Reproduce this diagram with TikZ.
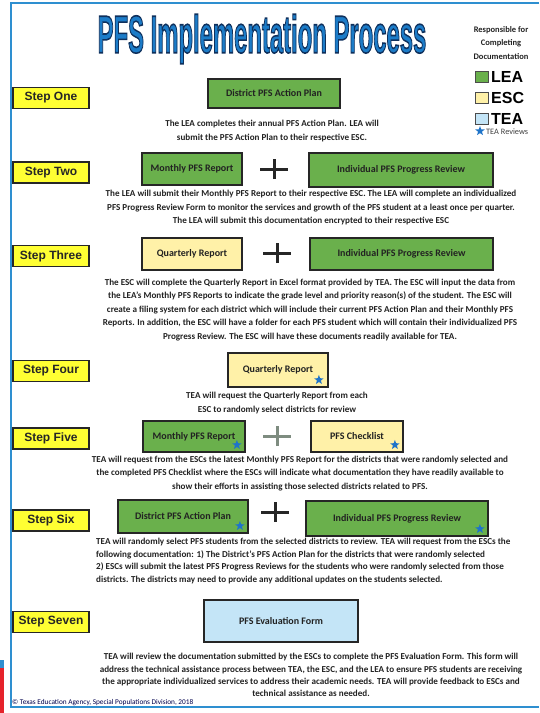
\documentclass[tikz,border=0pt]{standalone}
\usepackage{fontspec}
\setmainfont{Carlito}
\newfontfamily\arialfont{Liberation Sans}
\usetikzlibrary{shapes.geometric}
\definecolor{framebl}{HTML}{2E8FD0}
\definecolor{leagreen}{HTML}{6AB04C}
\definecolor{escyellow}{HTML}{FFF1A8}
\definecolor{teablue}{HTML}{C4E5F7}
\definecolor{stepyellow}{HTML}{FFFF33}
\definecolor{starblue}{HTML}{1F74C9}
\definecolor{titleblue}{HTML}{1C7CC8}
\definecolor{txt}{HTML}{222222}
\definecolor{plusgray}{HTML}{7E8C80}
\definecolor{redbar}{HTML}{E5232B}
\begin{document}
\begin{tikzpicture}[x=1pt,y=-1pt,
  stepbox/.style={draw=black!85, line width=1.6pt, fill=stepyellow, minimum width=76pt, minimum height=21pt,
    font=\arialfont\bfseries\fontsize{12}{14}\selectfont, text=black!85, inner sep=0pt},
  docbox/.style={draw=black!85, line width=1.8pt, font=\bfseries\fontsize{10}{12}\selectfont, text=txt, inner sep=0pt},
  lea/.style={docbox, fill=leagreen},
  esc/.style={docbox, fill=escyellow},
  tea/.style={docbox, fill=teablue},
  body/.style={font=\bfseries\fontsize{9.1}{13.5}\selectfont, text=txt, align=center, inner sep=0pt},
  plussign/.style={line width=3pt, draw=black!85},
  tstar/.style={star, star points=5, star point ratio=2.4, fill=starblue, inner sep=0pt, minimum size=10pt},
  legbox/.style={draw=black!70, line width=1pt, minimum width=13pt, minimum height=11pt, inner sep=0pt},
  legtext/.style={font=\arialfont\bfseries\fontsize{16}{18}\selectfont, text=black, anchor=west, inner sep=0pt}
]
\useasboundingbox (0,0) rectangle (539,713);
% frame
\draw[framebl, line width=2pt] (539,3) -- (11,3) -- (11,707) -- (539,707);
\fill[framebl] (0,660) rectangle (4,668);
\fill[redbar] (0,668) rectangle (4,713);

% title
\node[inner sep=0pt, text=titleblue] (title) at (262,39)
  {\arialfont\bfseries\fontsize{53}{53}\selectfont\scalebox{0.45}[1]{\special{pdf:literal direct 2 Tr 1.6 w 0.06 0.19 0.36 RG}PFS Implementation Process\special{pdf:literal direct 0 Tr}}};

% legend
\node[font=\bfseries\fontsize{8.5}{13.5}\selectfont, align=center, text=txt, inner sep=0pt] (legtitle) at (501,43)
  {Responsible for\\Completing\\Documentation};
\node[legbox, fill=leagreen] (lgLEA) at (481.5,76.5) {};
\node[legbox, fill=escyellow] (lgESC) at (481.5,98) {};
\node[legbox, fill=teablue] (lgTEA) at (481.5,118.5) {};
\node[legtext] (lgLEAt) at (491,76.5) {LEA};
\node[legtext] (lgESCt) at (491,98) {ESC};
\node[legtext] (lgTEAt) at (491,118.5) {TEA};
\node[tstar, minimum size=10pt] (lgstar) at (480,131) {};
\node[font=\fontsize{8.3}{9}\selectfont, text=black!75, anchor=west, inner sep=0pt] (lgstart) at (486,131.5) {TEA Reviews};

% step labels
\node[stepbox] (s1) at (51,98) {Step One};
\node[stepbox] (s2) at (51,172.5) {Step Two};
\node[stepbox] (s3) at (51,256) {Step Three};
\node[stepbox] (s4) at (51,371) {Step Four};
\node[stepbox] (s5) at (51,438.5) {Step Five};
\node[stepbox] (s6) at (51,520.5) {Step Six};
\node[stepbox] (s7) at (51,622) {Step Seven};

% step one
\node[lea, minimum width=132pt, minimum height=29pt] (b1) at (274,93.5) {District PFS Action Plan};
\node[body] (t1) at (272,131) {The LEA completes their annual PFS Action Plan. LEA will\\submit the PFS Action Plan to their respective ESC.};

% step two
\node[lea, minimum width=100pt, minimum height=32pt] (b2a) at (192,169) {Monthly PFS Report};
\coordinate (p2) at (274,169);
\draw[plussign] ([xshift=-14pt]p2) -- ([xshift=14pt]p2);
\draw[plussign] ([yshift=-10pt]p2) -- ([yshift=10pt]p2);
\node[lea, minimum width=184pt, minimum height=34pt] (b2b) at (401,170) {Individual PFS Progress Review};
\node[body] (t2) at (311,208) {The LEA will submit their Monthly PFS Report to their respective ESC. The LEA will complete an individualized\\PFS Progress Review Form to monitor the services and growth of the PFS student at a least once per quarter.\\The LEA will submit this documentation encrypted to their respective ESC};

% step three
\node[esc, minimum width=100pt, minimum height=32pt] (b3a) at (192,254) {Quarterly Report};
\coordinate (p3) at (277,253);
\draw[plussign] ([xshift=-14pt]p3) -- ([xshift=14pt]p3);
\draw[plussign] ([yshift=-10pt]p3) -- ([yshift=10pt]p3);
\node[lea, minimum width=183pt, minimum height=32pt] (b3b) at (401.5,254) {Individual PFS Progress Review};
\node[body] (t3) at (310,310) {The ESC will complete the Quarterly Report in Excel format provided by TEA. The ESC will input the data from\\the LEA's Monthly PFS Reports to indicate the grade level and priority reason(s) of the student. The ESC will\\create a filing system for each district which will include their current PFS Action Plan and their Monthly PFS\\Reports. In addition, the ESC will have a folder for each PFS student which will contain their individualized PFS\\Progress Review. The ESC will have these documents readily available for TEA.};

% step four
\node[esc, minimum width=100pt, minimum height=34pt] (b4) at (278,370) {Quarterly Report};
\node[tstar, xshift=-10pt, yshift=8pt] (st4) at (b4.south east) {};
\node[body] (t4) at (277,403) {TEA will request the Quarterly Report from each\\ESC to randomly select districts for review};

% step five
\node[lea, minimum width=102pt, minimum height=31pt] (b5a) at (194,436.5) {Monthly PFS Report};
\node[tstar, xshift=-9pt, yshift=8pt] (st5a) at (b5a.south east) {};
\coordinate (p5) at (277,436);
\draw[plussign, draw=plusgray] ([xshift=-14pt]p5) -- ([xshift=14pt]p5);
\draw[plussign, draw=plusgray] ([yshift=-10pt]p5) -- ([yshift=10pt]p5);
\node[esc, minimum width=92pt, minimum height=31pt] (b5b) at (357,436.5) {PFS Checklist};
\node[tstar, xshift=-9pt, yshift=8pt] (st5b) at (b5b.south east) {};
\node[body] (t5) at (300,473.5) {TEA will request from the ESCs the latest Monthly PFS Report for the districts that were randomly selected and\\the completed PFS Checklist where the ESCs will indicate what documentation they have readily available to\\show their efforts in assisting those selected districts related to PFS.};

% step six
\node[lea, minimum width=130pt, minimum height=33pt] (b6a) at (183,516.5) {District PFS Action Plan};
\node[tstar, xshift=-9pt, yshift=8pt] (st6a) at (b6a.south east) {};
\coordinate (p6) at (275,512);
\draw[plussign] ([xshift=-14pt]p6) -- ([xshift=14pt]p6);
\draw[plussign] ([yshift=-10pt]p6) -- ([yshift=10pt]p6);
\node[lea, minimum width=182pt, minimum height=35pt] (b6b) at (397,518.5) {Individual PFS Progress Review};
\node[tstar, xshift=-9pt, yshift=8pt] (st6b) at (b6b.south east) {};
\node[body, align=left, anchor=west, font=\bfseries\fontsize{9.1}{12.8}\selectfont] (t6) at (96,561) {TEA will randomly select PFS students from the selected districts to review. TEA will request from the ESCs the\\following documentation: 1) The District's PFS Action Plan for the districts that were randomly selected\\2) ESCs will submit the latest PFS Progress Reviews for the students who were randomly selected from those\\districts. The districts may need to provide any additional updates on the students selected.};

% step seven
\node[tea, minimum width=154pt, minimum height=42pt] (b7) at (281,621) {PFS Evaluation Form};
\node[body, font=\bfseries\fontsize{9.1}{12.2}\selectfont] (t7) at (311,675) {TEA will review the documentation submitted by the ESCs to complete the PFS Evaluation Form. This form will\\address the technical assistance process between TEA, the ESC, and the LEA to ensure PFS students are receiving\\the appropriate individualized services to address their academic needs. TEA will provide feedback to ESCs and\\technical assistance as needed.};

% footer
\node[font=\fontsize{7.3}{9}\selectfont, text=black!70!blue, anchor=south west, inner sep=0pt] (footer) at (12,706) {© Texas Education Agency, Special Populations Division, 2018};
\end{tikzpicture}
\end{document}
